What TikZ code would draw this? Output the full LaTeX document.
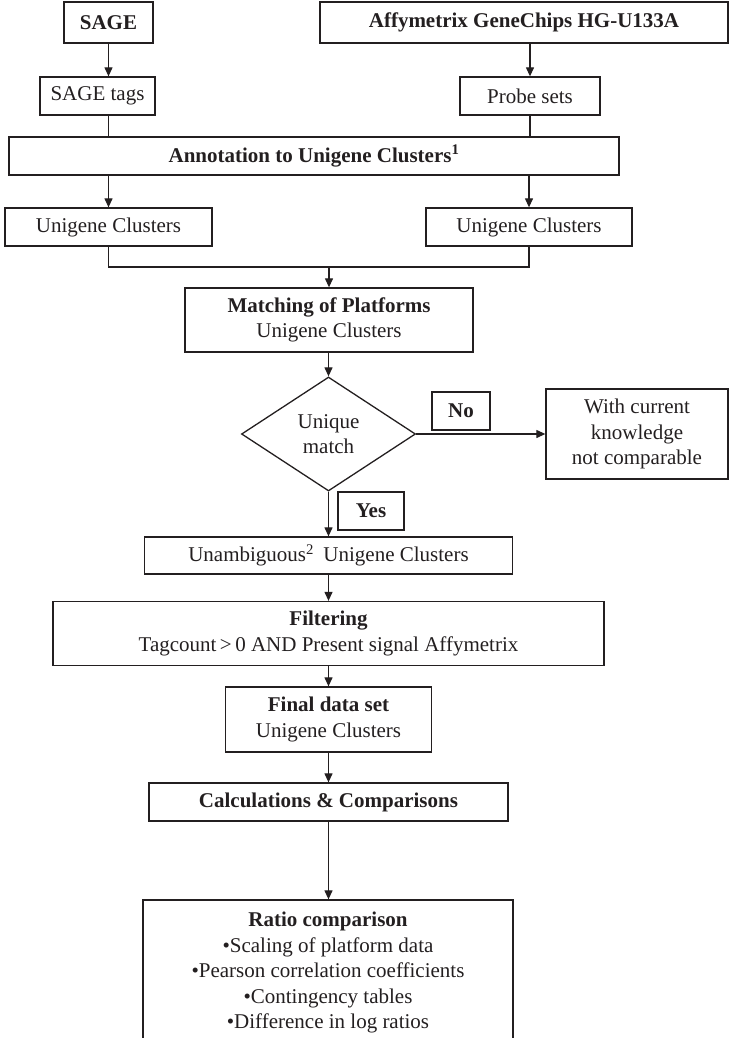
\documentclass[tikz,border=0pt]{standalone}
\usepackage{fontspec}
\setmainfont{Liberation Serif}
\usetikzlibrary{arrows.meta,shapes.geometric}
\definecolor{ink}{HTML}{231F20}
\begin{document}
\begin{tikzpicture}[x=1pt,y=-1pt,
  every node/.style={font=\fontsize{21}{25.5}\selectfont, text=ink},
  box/.style={draw=ink, line width=1.3pt, rectangle, inner sep=0pt, align=center},
  ln/.style={draw=ink, line width=1.2pt},
  arr/.style={ln, -{Triangle[length=9pt,width=8pt]}}]
\useasboundingbox (0,0) rectangle (729,1038);
\clip (0,0) rectangle (729,1038);

% sources
\node[box, minimum width=89, minimum height=41, font=\fontsize{21}{25.5}\selectfont\bfseries]
  (sage) at (108.5,22.5) {SAGE};
\node[box, minimum width=408, minimum height=41, font=\fontsize{21}{25.5}\selectfont\bfseries]
  (affy) at (524,22.5) {Affymetrix GeneChips HG-U133A};
\node[box, minimum width=115, minimum height=38] (tags) at (97.5,96) {SAGE tags};
\node[box, minimum width=140, minimum height=38] (probe) at (530,96) {Probe sets};

% annotation
\node[box, minimum width=610, minimum height=38, font=\fontsize{21}{25.5}\selectfont\bfseries]
  (annot) at (314,156) {Annotation to Unigene Clusters\textsuperscript{1}};
\node[box, minimum width=207, minimum height=38] (ucl) at (108.5,227) {Unigene Clusters};
\node[box, minimum width=206, minimum height=38] (ucr) at (529,227) {Unigene Clusters};

% matching and decision
\node[box, minimum width=288, minimum height=64] (match) at (329,320)
  {\textbf{Matching of Platforms}\\Unigene Clusters};
\node[draw=ink, line width=1.3pt, shape=diamond, minimum width=174, minimum height=114,
  inner sep=0pt, align=center] (dia) at (328.5,434) {Unique\\match};
\node[box, minimum width=58, minimum height=38, font=\fontsize{21}{25.5}\selectfont\bfseries]
  (no) at (461,411) {No};
\node[box, minimum width=182, minimum height=90] (with) at (637,434)
  {With current\\knowledge\\not comparable};
\node[box, minimum width=66, minimum height=38, font=\fontsize{21}{25.5}\selectfont\bfseries]
  (yes) at (371,511) {Yes};

% downstream steps
\node[box, minimum width=368, minimum height=37] (unamb) at (328.5,555.5)
  {Unambiguous\textsuperscript{2}\hspace{0.45em}Unigene Clusters};
\node[box, minimum width=551, minimum height=64] (filt) at (328.5,633.5)
  {\textbf{Filtering}\\Tagcount\thinspace>\thinspace0 AND Present signal Affymetrix};
\node[box, minimum width=206, minimum height=65] (final) at (328.5,719.5)
  {\textbf{Final data set}\\Unigene Clusters};
\node[box, minimum width=359, minimum height=38, font=\fontsize{21}{25.5}\selectfont\bfseries]
  (calc) at (328.5,802) {Calculations \& Comparisons};
\node[box, minimum width=370, minimum height=145] (ratio) at (328,972.5)
  {\textbf{Ratio comparison}\\•Scaling of platform data\\•Pearson correlation coefficients\\•Contingency tables\\•Difference in log ratios};

% connectors
\coordinate (merge) at (329,267);
\draw[arr] (sage.south) -- (sage.south |- tags.north);
\draw[arr] (probe.north |- affy.south) -- (probe.north);
\draw[ln] (ucl.north |- tags.south) -- (ucl.north |- annot.north);
\draw[ln] (probe.south) -- (probe.south |- annot.north);
\draw[arr] (ucl.north |- annot.south) -- (ucl.north);
\draw[arr] (ucr.north |- annot.south) -- (ucr.north);
\draw[ln] (ucl.south) |- (merge) -| (ucr.south);
\draw[arr] (merge) -- (merge |- match.north);
\draw[arr] (dia.north |- match.south) -- (dia.north);
\draw[arr] (dia.east) -- (dia.east -| with.west);
\draw[arr] (dia.south) -- (dia.south |- unamb.north);
\draw[arr] (dia.south |- unamb.south) -- (dia.south |- filt.north);
\draw[arr] (dia.south |- filt.south) -- (dia.south |- final.north);
\draw[arr] (dia.south |- final.south) -- (dia.south |- calc.north);
\draw[arr] (dia.south |- calc.south) -- (dia.south |- ratio.north);
\end{tikzpicture}
\end{document}
